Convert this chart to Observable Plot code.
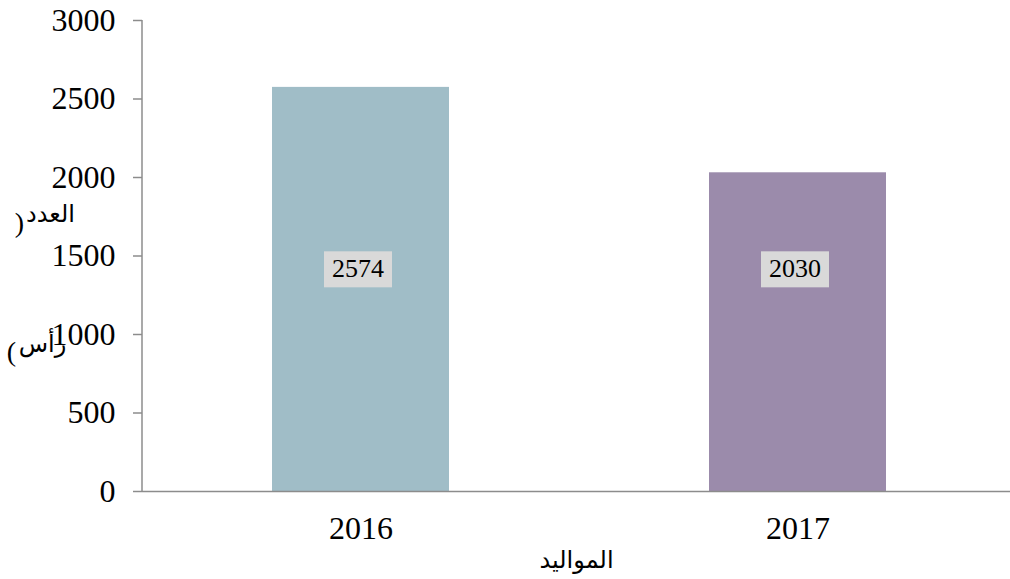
<!DOCTYPE html>
<html>
<head>
<meta charset="utf-8">
<script src="https://cdn.jsdelivr.net/npm/d3@7"></script>
<script src="https://cdn.jsdelivr.net/npm/@observablehq/plot@0.6"></script>
<style>
  html, body { margin: 0; padding: 0; background: #fff; }
  #chart svg { display: block; }
</style>
</head>
<body>
<div id="chart"></div>
<script>
const years = ["2016", "2017"];
const counts = [2574, 2030];
const barColors = ["#a0bdc7", "#9b8bab"];
const yTicks = [0, 500, 1000, 1500, 2000, 2500, 3000];
const xTitle = "المواليد";
const yTitleWords = ["العدد", "رأس"];
const yTitleParens = [")", "("];

const data = years.map((y, i) => ({year: y, count: counts[i], color: barColors[i]}));

const font = "'Liberation Serif', 'Times New Roman', 'DejaVu Serif', serif";
const arabicFont = "'DejaVu Sans', 'Noto Sans', sans-serif";
const axisColor = "#8c8c8c";

const chart = Plot.plot({
  width: 1010,
  height: 579,
  marginTop: 20,
  marginBottom: 88,
  marginLeft: 142,
  marginRight: 0,
  style: {fontFamily: font, fontSize: "32px", color: "#000", background: "#fff"},
  x: {domain: years, range: [142, 1016], paddingInner: 0.595, paddingOuter: 0.2975},
  y: {domain: [0, 3000], ticks: yTicks},
  marks: [
    Plot.barY(data, {x: "year", y: "count", fill: "color"}),
    Plot.ruleY([0], {stroke: axisColor, strokeWidth: 1.5}),
    Plot.axisY({ticks: yTicks, tickSize: 9, tickPadding: 18, stroke: axisColor, strokeWidth: 1.5, strokeOpacity: 1, label: null, fontSize: 32, fontFamily: font, tickFormat: d => String(d)}),
    Plot.axisX({tickSize: 0, tickPadding: 25, fontSize: 32, fontFamily: font, label: null}),
    Plot.text([xTitle], {frameAnchor: "bottom", dy: 76, lineAnchor: "bottom", text: d => d, fontSize: 24, fontFamily: arabicFont}),
    Plot.text(data, {x: "year", frameAnchor: "middle", dy: 13, dx: -3, text: d => String(d.count), fontSize: 26, fontFamily: font, fill: "#000", className: "vlabel"}),
    // y-axis title, broken over two lines as in the reference
    Plot.text([yTitleWords[0]], {frameAnchor: "left", dx: -92, dy: -42, text: d => d, fontSize: 24, fontFamily: arabicFont, textAnchor: "middle"}),
    Plot.text([yTitleParens[0]], {frameAnchor: "left", dx: -123, dy: -33, text: d => d, fontSize: 28, fontFamily: font, textAnchor: "middle"}),
    Plot.text([yTitleWords[1]], {frameAnchor: "left", dx: -100, dy: 88, text: d => d, fontSize: 24, fontFamily: arabicFont, textAnchor: "middle"}),
    Plot.text([yTitleParens[1]], {frameAnchor: "left", dx: -131, dy: 96, text: d => d, fontSize: 28, fontFamily: font, textAnchor: "middle"})
  ]
});
document.getElementById("chart").appendChild(chart);

// y-axis line
const svg = d3.select(chart);
const yScale = chart.scale("y");
svg.append("line")
  .attr("x1", 142).attr("x2", 142)
  .attr("y1", yScale.apply(3000)).attr("y2", yScale.apply(0))
  .attr("stroke", axisColor).attr("stroke-width", 1.5);

// gray boxes behind value labels
svg.selectAll("g.vlabel text").each(function() {
  const b = this.getBBox();
  const padX = 8, padY = 4;
  d3.select(this.parentNode).insert("rect", () => this)
    .attr("transform", this.getAttribute("transform"))
    .attr("x", b.x - padX).attr("y", b.y - padY + 1)
    .attr("width", b.width + 2 * padX).attr("height", b.height + 2 * padY - 1)
    .attr("fill", "#d9d9d9");
});
</script>
</body>
</html>
